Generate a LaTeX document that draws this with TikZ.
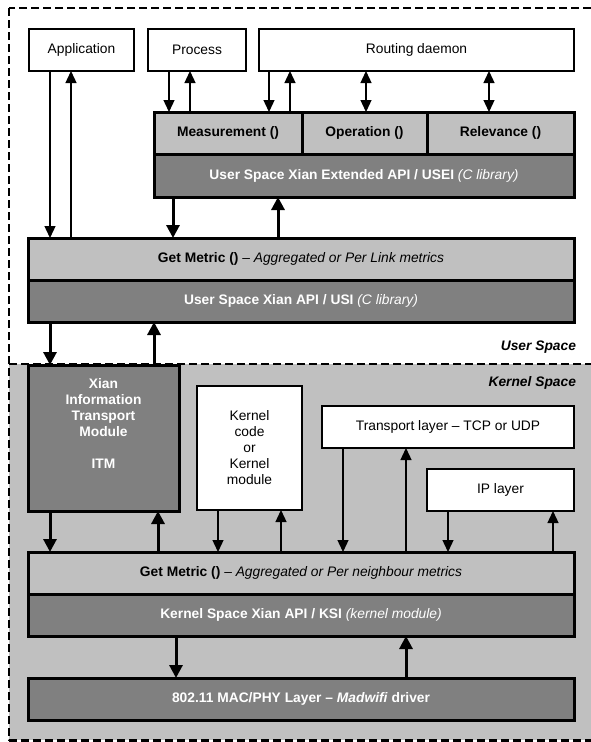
\documentclass[tikz,border=0pt]{standalone}
\usepackage{fontspec}
\setmainfont{Liberation Sans}
\usetikzlibrary{arrows.meta}
\definecolor{lg}{HTML}{C0C0C0}
\definecolor{dg}{HTML}{808080}
\begin{document}
\begin{tikzpicture}[x=1pt,y=-1pt,
  font=\fontsize{13.8}{16}\selectfont,
  every node/.style={inner sep=0pt,outer sep=0pt},
  wbox/.style={draw,fill=white,line width=1.3pt,anchor=north west,align=center},
  lbox/.style={draw,fill=lg,line width=3pt,anchor=north west,font=\fontsize{13.8}{16}\selectfont\bfseries},
  dbox/.style={draw,fill=dg,line width=3pt,anchor=north west,text=white,align=center,font=\fontsize{13.8}{16}\selectfont\bfseries},
  tarrow/.style={line width=1.3pt,-{Triangle[length=12pt,width=11pt]}},
  tboth/.style={line width=1.3pt,{Triangle[length=12pt,width=11pt]}-{Triangle[length=12pt,width=11pt]}},
  barrow/.style={line width=3pt,-{Triangle[length=13pt,width=13pt]}},
  bord/.style={line width=1.5pt,dash pattern=on 8pt off 4pt}
  ]
\useasboundingbox (0,0) rectangle (591,742);
\clip (0,0) rectangle (591,742);
\fill[white] (0,0) rectangle (591,742);
% kernel space background
\fill[lg] (9,364) rectangle (600,740);
\draw[bord] (9,8) rectangle (600,740);
\draw[bord] (9,364) -- (600,364);
\draw[line width=3pt,dash pattern=on 8pt off 4pt] (9,740) -- (600,740);

% user space boxes
\node[wbox,minimum width=105pt,minimum height=42pt] (app) at (29,29) {Application};
\node[wbox,minimum width=98pt,minimum height=42pt] (proc) at (148,29) {Process};
\node[wbox,minimum width=315pt,minimum height=42pt] (route) at (259,29) {Routing daemon};

\node[lbox,minimum width=148pt,minimum height=42pt] (meas) at (154,112) {Measurement ()};
\node[lbox,minimum width=125pt,minimum height=42pt] (oper) at (302,112) {Operation ()};
\node[lbox,minimum width=147pt,minimum height=42pt] (rel) at (427,112) {Relevance ()};
\node[dbox,minimum width=420pt,minimum height=43pt] (usei) at (154,154) {User Space Xian Extended API / USEI {\mdseries\itshape (C library)}};

\node[lbox,minimum width=546pt,minimum height=42pt] (gmu) at (28,238) {Get Metric () {\mdseries -- \itshape Aggregated or Per Link metrics}};
\node[dbox,minimum width=546pt,minimum height=42pt] (usi) at (28,280) {User Space Xian API / USI {\mdseries\itshape (C library)}};

\node[anchor=east,font=\fontsize{13.8}{16}\selectfont\bfseries\itshape] (ulab) at (576,347) {User Space};
\node[anchor=east,font=\fontsize{13.8}{16}\selectfont\bfseries\itshape] (klab) at (576,383) {Kernel Space};

% kernel space boxes
\node[dbox,minimum width=151pt,minimum height=146pt] (itm) at (28,365) {};
\node[text=white,align=center,font=\fontsize{13.8}{16}\selectfont\bfseries] (itmtext) at ([yshift=15pt]itm.center) {Xian\\Information\\Transport\\Module\\[16pt]ITM};
\node[wbox,minimum width=105pt,minimum height=124pt] (kcode) at (197,386) {Kernel\\code\\or\\Kernel\\module};
\node[wbox,minimum width=252pt,minimum height=42pt] (trans) at (322,406) {Transport layer -- TCP or UDP};
\node[wbox,minimum width=147pt,minimum height=42pt] (ip) at (427,469) {IP layer};

\node[lbox,minimum width=546pt,minimum height=42pt] (gmk) at (28,552) {Get Metric () {\mdseries -- \itshape Aggregated or Per neighbour metrics}};
\node[dbox,minimum width=546pt,minimum height=42pt] (ksi) at (28,594) {Kernel Space Xian API / KSI {\mdseries\itshape (kernel module)}};
\node[dbox,minimum width=546pt,minimum height=42pt] (mac) at (28,678) {802.11 MAC/PHY Layer -- \textit{Madwifi} driver};

% connectors: application
\draw[tarrow] ([xshift=21pt]app.south west) -- ([xshift=21pt]app.south west |- gmu.north);
\draw[tarrow] ([xshift=42pt]app.south west |- gmu.north) -- ([xshift=42pt]app.south west);
% process
\draw[tarrow] ([xshift=21pt]proc.south west) -- ([xshift=21pt]proc.south west |- meas.north);
\draw[tarrow] ([xshift=42pt]proc.south west |- meas.north) -- ([xshift=42pt]proc.south west);
% routing daemon
\draw[tarrow] ([xshift=10pt]route.south west) -- ([xshift=10pt]route.south west |- meas.north);
\draw[tarrow] ([xshift=31pt]route.south west |- meas.north) -- ([xshift=31pt]route.south west);
\draw[tboth] ([xshift=107pt]route.south west) -- ([xshift=107pt]route.south west |- oper.north);
\draw[tboth] ([xshift=230pt]route.south west) -- ([xshift=230pt]route.south west |- rel.north);
% USEI <-> Get Metric
\draw[barrow] ([xshift=19pt]usei.south west) -- ([xshift=19pt]usei.south west |- gmu.north);
\draw[barrow] ([xshift=124pt]usei.south west |- gmu.north) -- ([xshift=124pt]usei.south west);
% USI <-> ITM
\draw[barrow] ([xshift=22pt]usi.south west) -- ([xshift=22pt]usi.south west |- itm.north);
\draw[barrow] ([xshift=126pt]usi.south west |- itm.north) -- ([xshift=126pt]usi.south west);
% ITM <-> Get Metric kernel
\draw[barrow] ([xshift=22pt]itm.south west) -- ([xshift=22pt]itm.south west |- gmk.north);
\draw[barrow] ([xshift=130pt]itm.south west |- gmk.north) -- ([xshift=130pt]itm.south west);
% kernel code
\draw[tarrow] ([xshift=21pt]kcode.south west) -- ([xshift=21pt]kcode.south west |- gmk.north);
\draw[tarrow] ([xshift=84pt]kcode.south west |- gmk.north) -- ([xshift=84pt]kcode.south west);
% transport
\draw[tarrow] ([xshift=21pt]trans.south west) -- ([xshift=21pt]trans.south west |- gmk.north);
\draw[tarrow] ([xshift=84pt]trans.south west |- gmk.north) -- ([xshift=84pt]trans.south west);
% ip
\draw[tarrow] ([xshift=21pt]ip.south west) -- ([xshift=21pt]ip.south west |- gmk.north);
\draw[tarrow] ([xshift=126pt]ip.south west |- gmk.north) -- ([xshift=126pt]ip.south west);
% KSI <-> MAC
\draw[barrow] ([xshift=148pt]ksi.south west) -- ([xshift=148pt]ksi.south west |- mac.north);
\draw[barrow] ([xshift=378pt]ksi.south west |- mac.north) -- ([xshift=378pt]ksi.south west);
\end{tikzpicture}
\end{document}
